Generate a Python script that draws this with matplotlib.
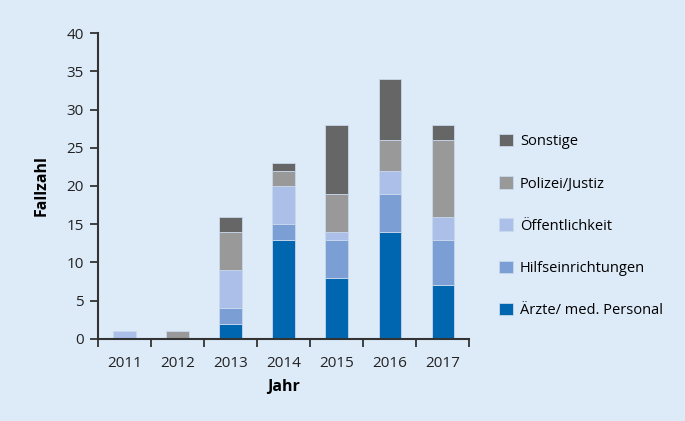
import matplotlib

matplotlib.use("Agg")
import matplotlib.pyplot as plt
from matplotlib.patches import Patch
import numpy as np

plt.rcParams["font.family"] = ["Open Sans", "DejaVu Sans"]

years = ["2011", "2012", "2013", "2014", "2015", "2016", "2017"]
aerzte = [0, 0, 2, 13, 8, 14, 7]
hilfe = [0, 0, 2, 2, 5, 5, 6]
oeffentlichkeit = [1, 0, 5, 5, 1, 3, 3]
polizei = [0, 1, 5, 2, 5, 4, 10]
sonstige = [0, 0, 2, 1, 9, 8, 2]

series = [
    ("Ärzte/ med. Personal", aerzte, "#0066b0"),
    ("Hilfseinrichtungen", hilfe, "#7b9ed4"),
    ("Öffentlichkeit", oeffentlichkeit, "#abbfe8"),
    ("Polizei/Justiz", polizei, "#999999"),
    ("Sonstige", sonstige, "#666666"),
]

bg = "#ddeaf8"
fig = plt.figure(figsize=(6.85, 4.21), dpi=100, facecolor=bg)
ax = fig.add_axes([0.143, 0.195, 0.542, 0.7265])
ax.set_facecolor(bg)

x = np.arange(len(years))
bottom = np.zeros(len(years))
for name, vals, color in series:
    vals = np.array(vals, dtype=float)
    ax.bar(x, vals, width=0.42, bottom=bottom, color=color,
           edgecolor="#c8d8ec", linewidth=0.6, label=name)
    bottom += vals

ax.set_xlim(-0.5, len(years) - 0.5)
ax.set_ylim(0, 40)
ax.set_yticks(range(0, 41, 5))
ax.set_xticks(x)
ax.set_xticklabels(years)
ax.set_xticks(np.arange(-0.5, len(years)), minor=True)
ax.tick_params(axis="x", which="major", length=0, pad=12, labelsize=11, colors="#222222")
ax.tick_params(axis="x", which="minor", length=6, width=1.3, color="#333333")
ax.tick_params(axis="y", length=6, width=1.3, color="#333333", labelsize=11,
               labelcolor="#222222", pad=4)

for side in ["top", "right"]:
    ax.spines[side].set_visible(False)
for side in ["left", "bottom"]:
    ax.spines[side].set_color("#333333")
    ax.spines[side].set_linewidth(1.5)

ax.set_ylabel("Fallzahl", fontsize=11.5, fontweight="bold", labelpad=12)
ax.set_xlabel("Jahr", fontsize=11.5, fontweight="bold", labelpad=6)

handles = [Patch(facecolor=c, edgecolor="#c8d8ec", linewidth=0.6, label=n)
           for n, _, c in series][::-1]
fig.legend(handles=handles, loc="upper left", bbox_to_anchor=(0.71, 0.712),
           frameon=False, fontsize=10.5, labelspacing=1.85, handlelength=0.9,
           handleheight=0.9, handletextpad=0.5)

fig.savefig("out.png", dpi=100, facecolor=bg)
